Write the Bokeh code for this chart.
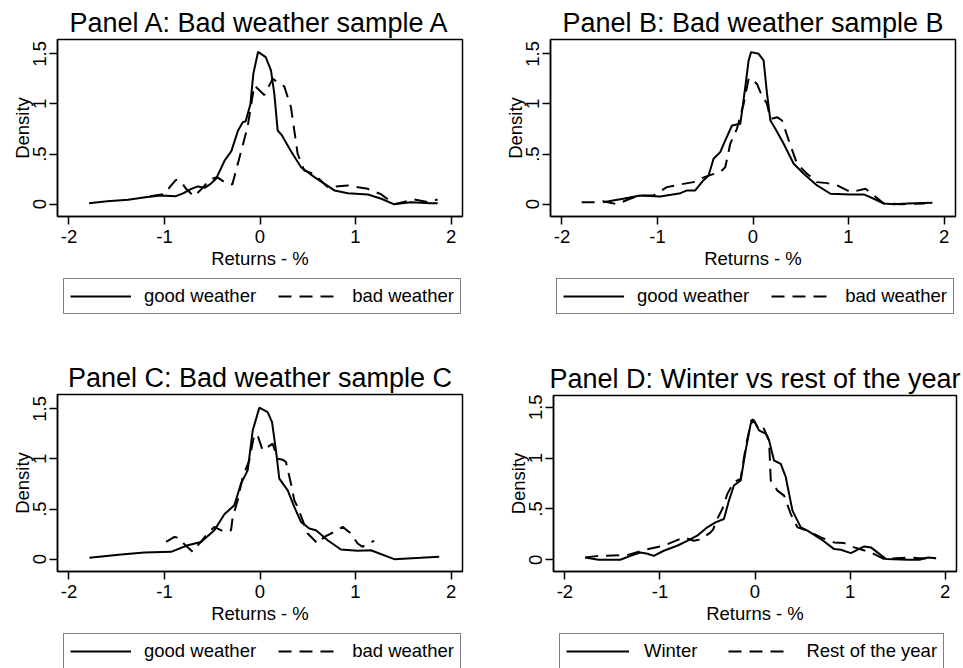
from bokeh.plotting import figure
from bokeh.models import Range1d, FixedTicker, Legend, LegendItem
from bokeh.layouts import column, row
from bokeh.embed import file_html
from bokeh.resources import INLINE

FONT = "Liberation Sans"

# ---------------- data ----------------
x_ticks = [-2, -1, 0, 1, 2]
x_tick_labels = ["-2", "-1", "0", "1", "2"]
y_ticks = [0, 0.5, 1, 1.5]
y_tick_labels = ["0", ".5", "1", "1.5"]
x_label = "Returns - %"
y_label = "Density"

titles = ["Panel A: Bad weather sample A", "Panel B: Bad weather sample B",
          "Panel C: Bad weather sample C", "Panel D: Winter vs rest of the year"]
labels_weather = ["good weather", "bad weather"]
labels_season = ["Winter", "Rest of the year"]

# Panel A
a_good_x = [-1.79, -1.60, -1.38, -1.20, -1.04, -0.88, -0.80, -0.72, -0.65, -0.58, -0.52, -0.46, -0.37,
            -0.30, -0.23, -0.18, -0.15, -0.10, -0.07, -0.02, 0.06, 0.115, 0.15, 0.185, 0.23, 0.32, 0.43,
            0.57, 0.78, 0.92, 1.13, 1.27, 1.40, 1.58, 1.79, 1.86]
a_good_y = [0.01, 0.03, 0.044, 0.07, 0.087, 0.08, 0.11, 0.153, 0.177, 0.163, 0.20, 0.253, 0.436,
            0.529, 0.735, 0.818, 0.828, 1.0, 1.30, 1.52, 1.467, 1.334, 1.10, 0.735, 0.686, 0.536, 0.369,
            0.27, 0.137, 0.11, 0.097, 0.054, 0.0, 0.02, 0.01, 0.01]
a_bad_x = [-1.15, -1.0, -0.93, -0.88, -0.83, -0.774, -0.69, -0.60, -0.53, -0.45, -0.34, -0.29, -0.13,
           -0.06, 0.045, 0.133, 0.254, 0.324, 0.394, 0.463, 0.568, 0.708, 0.917, 1.127, 1.266, 1.405,
           1.614, 1.754, 1.859]
a_bad_y = [0.08, 0.10, 0.187, 0.243, 0.23, 0.153, 0.077, 0.163, 0.243, 0.27, 0.20, 0.197, 0.77,
           1.185, 1.09, 1.25, 1.175, 0.968, 0.503, 0.336, 0.30, 0.17, 0.187, 0.153, 0.10, 0.0,
           0.047, 0.02, 0.047]

# Panel B
b_good_x = [-1.57, -1.36, -1.18, -0.97, -0.76, -0.69, -0.605, -0.52, -0.465, -0.413, -0.343, -0.29,
            -0.22, -0.133, -0.081, -0.046, -0.02, 0.059, 0.111, 0.147, 0.182, 0.234, 0.321, 0.426,
            0.531, 0.671, 0.811, 1.021, 1.16, 1.265, 1.37, 1.475, 1.62, 1.878]
b_good_y = [0.02, 0.054, 0.087, 0.077, 0.11, 0.137, 0.137, 0.237, 0.286, 0.453, 0.519, 0.636,
            0.785, 0.802, 1.168, 1.434, 1.517, 1.50, 1.434, 1.10, 0.835, 0.752, 0.603, 0.403,
            0.303, 0.187, 0.104, 0.097, 0.097, 0.054, 0.007, 0.0, 0.007, 0.013]
b_bad_x = [-1.794, -1.655, -1.57, -1.427, -1.287, -1.183, -1.04, -0.902, -0.763, -0.623, -0.553,
           -0.45, -0.343, -0.29, -0.238, -0.168, -0.098, -0.046, -0.03, 0.042, 0.077, 0.147, 0.182,
           0.252, 0.304, 0.374, 0.461, 0.566, 0.671, 0.776, 0.881, 1.021, 1.178, 1.265, 1.37,
           1.545, 1.80]
b_bad_y = [0.02, 0.02, 0.03, 0.0, 0.054, 0.087, 0.087, 0.17, 0.197, 0.22, 0.253,
           0.29, 0.32, 0.37, 0.603, 0.752, 1.0, 1.25, 1.26, 1.20, 1.118, 1.0, 0.85,
           0.868, 0.835, 0.636, 0.403, 0.303, 0.22, 0.21, 0.187, 0.12, 0.153, 0.087, 0.007,
           0.0, 0.007]

# Panel C
c_good_x = [-1.786, -1.454, -1.21, -0.931, -0.757, -0.617, -0.478, -0.373, -0.269, -0.199, -0.129,
            -0.076, -0.007, 0.08, 0.126, 0.167, 0.202, 0.29, 0.359, 0.429, 0.516, 0.586, 0.708,
            0.847, 1.022, 1.161, 1.405, 1.684, 1.876]
c_good_y = [0.013, 0.047, 0.067, 0.073, 0.139, 0.172, 0.289, 0.448, 0.538, 0.754, 0.886,
            1.285, 1.511, 1.467, 1.368, 1.086, 0.804, 0.687, 0.521, 0.372, 0.306, 0.289, 0.189,
            0.096, 0.083, 0.089, 0.0, 0.013, 0.023]
c_bad_x = [-0.983, -0.896, -0.84, -0.792, -0.704, -0.635, -0.547, -0.478, -0.373, -0.303, -0.286,
           -0.233, -0.181, -0.112, -0.059, -0.02, 0.028, 0.08, 0.133, 0.185, 0.237, 0.272, 0.324,
           0.359, 0.394, 0.499, 0.604, 0.673, 0.777, 0.865, 0.952, 1.022, 1.074, 1.109, 1.196]
c_bad_y = [0.172, 0.222, 0.21, 0.149, 0.073, 0.156, 0.256, 0.322, 0.272, 0.289, 0.42,
           0.588, 0.82, 0.986, 1.25, 1.22, 1.086, 1.12, 1.152, 1.003, 0.993, 0.97, 0.754,
           0.588, 0.52, 0.256, 0.156, 0.222, 0.272, 0.322, 0.256, 0.156, 0.123, 0.149, 0.182]

# Panel D
d_winter_x = [-1.786, -1.646, -1.417, -1.311, -1.206, -1.13, -1.065, -0.96, -0.819, -0.713, -0.608,
              -0.502, -0.415, -0.327, -0.274, -0.222, -0.151, -0.098, -0.045, -0.01, 0.042, 0.113,
              0.148, 0.2, 0.271, 0.324, 0.394, 0.482, 0.552, 0.693, 0.833, 0.904, 1.009, 1.15,
              1.22, 1.379, 1.608, 1.73, 1.819, 1.906]
d_winter_y = [0.023, 0.0, 0.0, 0.039, 0.072, 0.06, 0.039, 0.089, 0.138, 0.187, 0.237,
              0.319, 0.368, 0.401, 0.582, 0.73, 0.779, 1.075, 1.338, 1.371, 1.272, 1.24,
              1.174, 0.976, 0.943, 0.812, 0.483, 0.319, 0.286, 0.204, 0.105, 0.099, 0.066, 0.131,
              0.122, 0.007, 0.0, 0.0, 0.023, 0.016]
d_rest_x = [-1.786, -1.646, -1.346, -1.171, -0.96, -0.749, -0.643, -0.573, -0.467, -0.44, -0.397,
            -0.344, -0.291, -0.222, -0.151, -0.098, -0.038, -0.02, 0.031, 0.078, 0.148, 0.166,
            0.236, 0.306, 0.376, 0.447, 0.552, 0.693, 0.833, 0.939, 1.044, 1.22, 1.36, 1.608,
            1.72, 1.9]
d_rest_y = [0.023, 0.039, 0.046, 0.095, 0.138, 0.22, 0.187, 0.2, 0.27, 0.30, 0.401,
            0.5, 0.648, 0.763, 0.796, 1.108, 1.371, 1.38, 1.30, 1.321, 1.174, 0.779,
            0.68, 0.631, 0.45, 0.319, 0.286, 0.22, 0.171, 0.164, 0.122, 0.072, 0.007, 0.023,
            0.016, 0.016]

LINE_W = 2.0
DASH = "13 8"
MAIN_H = 275


def make_panel(title, x1, y1, x2, y2, labels, width, total_h, left, right, top, yr,
               leg_spacing, leg_glyph, leg_standoff):
    frame_bottom = 216
    p = figure(width=width, height=MAIN_H, output_backend="svg", toolbar_location=None,
               x_range=Range1d(-2.12, 2.12), y_range=Range1d(*yr),
               min_border_left=left, min_border_right=right,
               min_border_top=top, min_border_bottom=MAIN_H - frame_bottom,
               background_fill_color="white", border_fill_color="white")
    p.title.text = title
    p.title.align = "center"
    p.title.text_font = FONT
    p.title.text_font_size = "27px"
    p.title.text_font_style = "normal"
    p.title.text_color = "black"
    p.title.standoff = 4

    p.grid.visible = False
    p.outline_line_color = "black"
    p.outline_line_width = 1.5
    p.outline_line_alpha = 1

    for ax in (p.xaxis[0], p.yaxis[0]):
        ax.axis_line_color = "black"
        ax.axis_line_width = 1.5
        ax.major_tick_line_color = "black"
        ax.major_tick_line_width = 1.5
        ax.major_tick_out = 8
        ax.major_tick_in = 0
        ax.minor_tick_line_color = None
        ax.major_label_text_font = FONT
        ax.major_label_text_font_size = "18.5px"
        ax.major_label_text_color = "black"
        ax.axis_label_text_font = FONT
        ax.axis_label_text_font_size = "18.5px"
        ax.axis_label_text_font_style = "normal"
        ax.axis_label_text_color = "black"

    p.xaxis.ticker = FixedTicker(ticks=x_ticks)
    p.xaxis.major_label_overrides = {t: s for t, s in zip(x_ticks, x_tick_labels)}
    p.xaxis.axis_label = x_label
    p.xaxis.major_label_standoff = 5
    p.xaxis.axis_label_standoff = 2

    p.yaxis.ticker = FixedTicker(ticks=y_ticks)
    p.yaxis.major_label_overrides = {t: s for t, s in zip(y_ticks, y_tick_labels)}
    p.yaxis.major_label_orientation = "vertical"
    p.yaxis.major_label_standoff = 3
    p.yaxis.axis_label = y_label
    p.yaxis.axis_label_standoff = -2

    p.line(x1, y1, line_color="black", line_width=LINE_W)
    p.line(x2, y2, line_color="black", line_width=LINE_W, line_dash=DASH)

    # legend strip below the panel (its frame is aligned with the panel frame)
    leg_h = total_h - MAIN_H
    lp = figure(width=width, height=leg_h, output_backend="svg", toolbar_location=None,
                x_axis_type=None, y_axis_type=None,
                x_range=Range1d(10, 11), y_range=Range1d(10, 11),
                min_border_left=left, min_border_right=right, min_border_top=0, min_border_bottom=0,
                background_fill_color="white", border_fill_color="white")
    lp.outline_line_color = None
    lp.grid.visible = False
    # same series drawn outside the strip's visible range: they only feed the legend keys
    k1 = lp.line(x1, y1, line_color="black", line_width=LINE_W)
    k2 = lp.line(x2, y2, line_color="black", line_width=LINE_W, line_dash=DASH)
    box_top = 3
    box_h = 36
    legend = Legend(items=[LegendItem(label=labels[0], renderers=[k1]),
                           LegendItem(label=labels[1], renderers=[k2])],
                    location=(6, leg_h - box_top - box_h), orientation="horizontal",
                    border_line_color="black", border_line_width=1.5,
                    background_fill_color="white", background_fill_alpha=1,
                    padding=6, spacing=leg_spacing, margin=0,
                    glyph_width=leg_glyph, glyph_height=20, label_height=20,
                    label_standoff=leg_standoff, label_text_font=FONT,
                    label_text_font_size="18.5px", label_text_color="black")
    lp.add_layout(legend)
    return column(p, lp, spacing=0)


yr_abc = (-0.123, 1.643)
yr_d = (-0.115, 1.615)

pA = make_panel(titles[0], a_good_x, a_good_y, a_bad_x, a_bad_y, labels_weather,
                480, 355, 57, 18, 39, yr_abc, 22, 61, 13)
pB = make_panel(titles[1], b_good_x, b_good_y, b_bad_x, b_bad_y, labels_weather,
                483, 355, 70, 8, 39, yr_abc, 22, 61, 13)
pC = make_panel(titles[2], c_good_x, c_good_y, c_bad_x, c_bad_y, labels_weather,
                480, 313, 57, 18, 39, yr_abc, 22, 61, 13)
pD = make_panel(titles[3], d_winter_x, d_winter_y, d_rest_x, d_rest_y, labels_season,
                483, 313, 73, 7, 40, yr_d, 31, 63, 15)

layout = column(row(pA, pB, spacing=0), row(pC, pD, spacing=0), spacing=0)

with open("out.html", "w") as f:
    f.write(file_html(layout, INLINE))
